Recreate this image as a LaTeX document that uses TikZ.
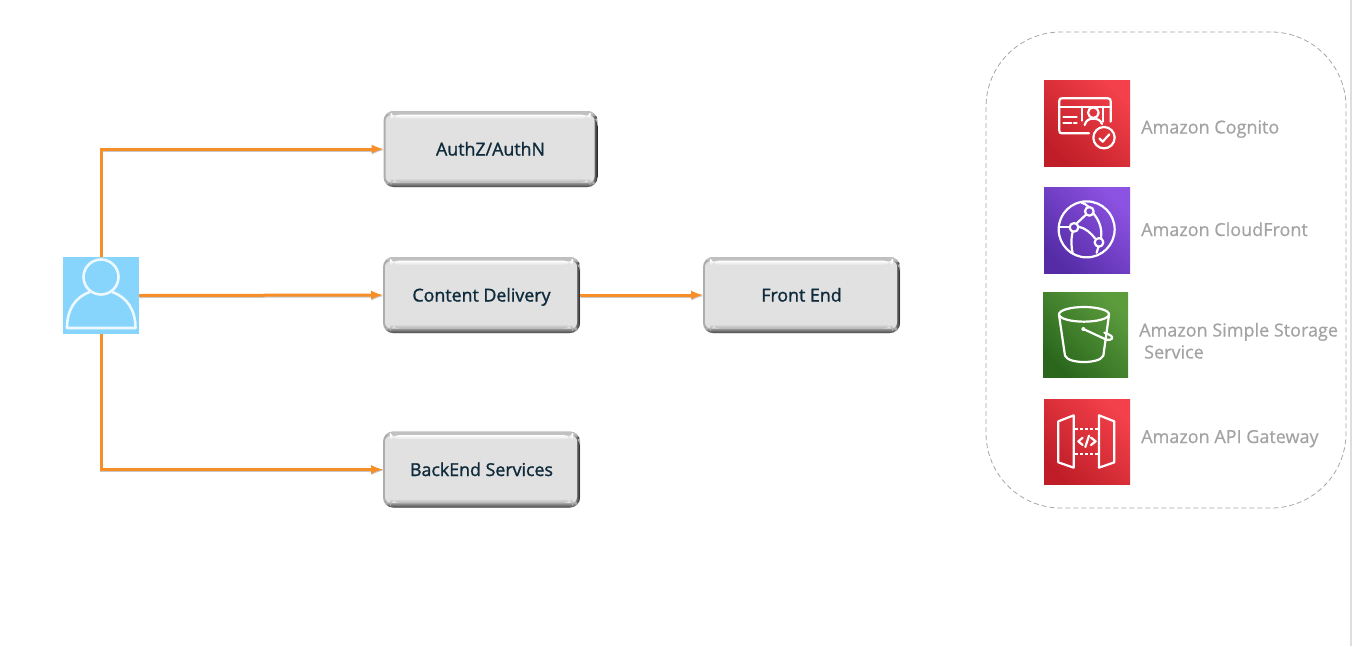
\documentclass[tikz,border=0pt]{standalone}
\usepackage{fontspec}
\usetikzlibrary{arrows,calc,positioning}
\setmainfont{Open Sans}
\newfontfamily\boxfont[AutoFakeBold=1.3]{Open Sans}
\newfontfamily\svcfont[AutoFakeBold=0.7]{Open Sans}
\definecolor{flowc}{HTML}{F78E27}
\definecolor{boxc}{HTML}{E1E1E1}
\definecolor{inkc}{HTML}{0E2A3B}
\definecolor{labelc}{HTML}{A3A3A3}
\definecolor{userc}{HTML}{87D4FC}
\definecolor{redlo}{HTML}{BF1E28}
\definecolor{redhi}{HTML}{F3404A}
\definecolor{violo}{HTML}{552CA6}
\definecolor{viohi}{HTML}{8C52E2}
\definecolor{grnlo}{HTML}{2A671D}
\definecolor{grnhi}{HTML}{5C9C3D}
\tikzset{
  bevelbox/.style={minimum height=76pt, inner sep=0pt, rounded corners=10pt,
    fill=black!32, text height=17pt, text depth=4pt,
    font=\boxfont\bfseries\fontsize{17.8}{20}\selectfont, text=inkc,
    path picture={
      \shade[top color=black!25, bottom color=white]
        (path picture bounding box.north west) rectangle
        ($(path picture bounding box.north east)+(0,5)$);
      \shade[top color=black!35, bottom color=black!72]
        ($(path picture bounding box.south west)+(0,-5)$) rectangle
        (path picture bounding box.south east);
      \shade[left color=black!40, right color=black!88]
        ($(path picture bounding box.north east)+(-5,5)$) rectangle
        (path picture bounding box.south east);
      \fill[boxc, rounded corners=6pt]
        ($(path picture bounding box.north west)+(2,4)$) rectangle
        ($(path picture bounding box.south east)+(-3,-4.5)$);
      \shade[top color=white, bottom color=boxc]
        ($(path picture bounding box.north west)+(7,3.5)$) rectangle
        ($(path picture bounding box.north east)+(-7,8)$);
      \shade[top color=boxc, bottom color=black!30]
        ($(path picture bounding box.south west)+(7,-9)$) rectangle
        ($(path picture bounding box.south east)+(-7,-4.5)$);}},
  flow/.style={draw=flowc, line width=3pt, -latex,
    preaction={draw=black!22, line width=3pt, transform canvas={xshift=0.5pt,yshift=-1pt}}},
  redicon/.style={bottom color=redlo, top color=redhi, shading angle=-45},
  svcicon/.style={minimum width=86pt, minimum height=86pt, inner sep=0pt},
  svclabel/.style={text=labelc, font=\svcfont\bfseries\fontsize{18}{22}\selectfont, align=left, inner sep=0pt},
  glyph/.style={draw=white, line width=2.2pt, line join=round, line cap=round},
}
\begin{document}
\begin{tikzpicture}[x=1pt,y=-1pt]
  \useasboundingbox (0,0) rectangle (1352,646);
  \fill[black!13] (1350,0) rectangle (1352,646);

  % left side
  \node[fill=userc, minimum width=76pt, minimum height=77pt, inner sep=0pt] (user) at (101,295.5) {};
  \draw[white!85!userc, line width=2.6pt] (101,277) circle (17.5);
  \draw[white!85!userc, line width=2.6pt, line join=round] (90,292) .. controls (75,297) and (67,310) .. (67,328) -- (135.5,328) .. controls (135.5,310) and (127,297) .. (112,292);

  \node[bevelbox, minimum width=214pt] (authz) at (490.5,149) {AuthZ/AuthN};
  \node[bevelbox, minimum width=197pt] (content) at (481.5,295) {Content Delivery};
  \node[bevelbox, minimum width=197pt] (backend) at (481.5,469.5) {BackEnd Services};
  \node[bevelbox, minimum width=197pt] (front) at (801.5,295) {Front End};

  \draw[flow] (user.north) |- (authz.west);
  \draw[flow] (user.east) -- (content.west);
  \draw[flow] (user.south) |- (backend.west);
  \draw[flow] (content.east) -- (front.west);

  % services
  \node[draw=black!35, dash pattern=on 5pt off 3pt, line width=0.8pt, rounded corners=75pt, minimum width=360pt, minimum height=476pt] (svcgroup) at (1166,270) {};

  \node[svcicon, redicon] (cognito) at (1087,123) {};
  \node[svcicon, bottom color=violo, top color=viohi, shading angle=-45] (cloudfront) at (1087,230) {};
  \node[svcicon, minimum width=85pt, minimum height=85pt, bottom color=grnlo, top color=grnhi, shading angle=-45] (storage) at (1085.5,334.5) {};
  \node[svcicon, minimum height=85pt, redicon] (gateway) at (1087,441.5) {};

  \node[svclabel, anchor=base west] (cognitotxt) at (1141,133.5) {Amazon Cognito};
  \node[svclabel, anchor=base west] (cloudfronttxt) at (1141,236) {Amazon CloudFront};
  \node[svclabel, anchor=base west] (storagetxt) at (1139,358.5) {Amazon Simple Storage\\\hspace{5pt}Service};
  \node[svclabel, anchor=base west] (gatewaytxt) at (1141,443) {Amazon API Gateway};

  % cognito glyph
  \begin{scope}[shift={(1044,80)}, x=1pt/3, y=-1pt/3]
    \draw[glyph] (135,160) -- (55,160) .. controls (48,160) and (46,158) .. (46,152) -- (46,62) .. controls (46,56) and (49,55) .. (54,55) -- (192,55) .. controls (198,55) and (200,58) .. (200,64) -- (200,125);
    \draw[glyph] (46,80) -- (200,80);
    \draw[glyph] (113,80) -- (113,122) (178,80) -- (178,125);
    \draw[glyph] (148,98) circle (16);
    \draw[glyph] (122,135) .. controls (126,120) and (136,116) .. (148,116) .. controls (160,116) and (170,120) .. (174,132);
    \draw[glyph] (58,110) -- (98,110) (58,128) -- (82,128) (90,128) -- (98,128);
    \draw[glyph] (180,173) circle (32);
    \draw[glyph] (166,175) -- (176,185) -- (196,163);
  \end{scope}

  % cloudfront glyph
  \begin{scope}[shift={(1044,186.7)}, x=1pt/3, y=-1pt/3]
    \draw[glyph] (128,128) circle (84);
    \draw[glyph] (136,74) circle (13) (90,122) circle (13) (165,167) circle (13);
    \draw[glyph] (104,120) .. controls (125,125) and (140,138) .. (153,155);
    \draw[glyph] (126,84) -- (98,110);
    \draw[glyph] (113,48) .. controls (120,50) and (128,54) .. (133,60);
    \draw[glyph] (148,80) .. controls (165,100) and (175,125) .. (171,153);
    \draw[glyph] (48,122) -- (76,122);
    \draw[glyph] (86,136) .. controls (80,160) and (82,180) .. (86,200);
    \draw[glyph] (163,181) -- (158,198);
  \end{scope}

  % storage glyph
  \begin{scope}[shift={(1043,292)}, x=1pt/3, y=-1pt/3]
    \draw[glyph] (123,67) ellipse (75 and 22);
    \draw[glyph] (48,69) -- (66,191) .. controls (72,205) and (100,210) .. (123,210) .. controls (146,210) and (175,205) .. (181,191) -- (198,69);
    \draw[glyph] (121,111) -- (190,143) .. controls (205,146) and (212,138) .. (205,132) .. controls (200,127) and (190,124) .. (184,122);
    \fill[white] (121,111) circle (6);
  \end{scope}

  % gateway glyph
  \begin{scope}[shift={(1044,399)}, x=1pt/3, y=-1pt/3]
    \draw[glyph] (89,49) -- (43,67) -- (43,190) -- (89,206) -- cycle;
    \draw[glyph] (165,49) -- (211,67) -- (211,190) -- (165,206) -- cycle;
    \draw[glyph, line cap=butt, dash pattern=on 3pt off 2pt] (94,90) -- (162,90) (94,164) -- (162,164);
    \draw[glyph] (116,116) -- (103,127) -- (116,138) (141,116) -- (155,127) -- (141,138) (135,110) -- (124,144);
  \end{scope}
\end{tikzpicture}
\end{document}
